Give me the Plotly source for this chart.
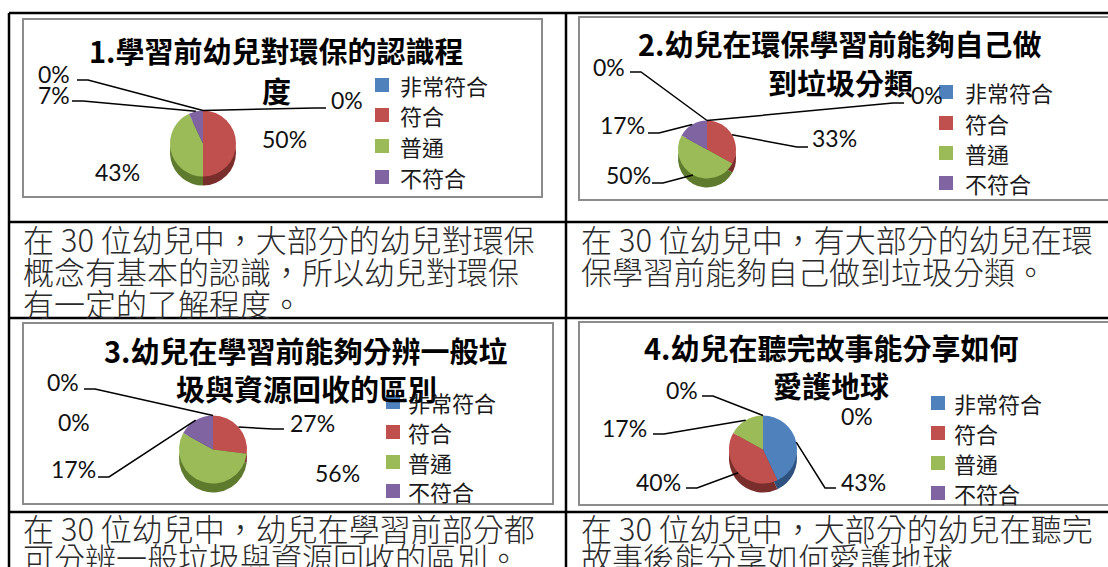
import math
import plotly.graph_objects as go

W, H = 1108, 567

# ---------------- data ----------------
categories = ["非常符合", "符合", "普通", "不符合"]
values_1 = [0, 50, 43, 7]
values_2 = [0, 33, 50, 17]
values_3 = [0, 27, 56, 17]
values_4 = [43, 40, 17, 0]
extra_pct = [0, 0, 0, 0]  # unnamed 5th category (label only)

titles = [
    ["1.學習前幼兒對環保的認識程", "度"],
    ["2.幼兒在環保學習前能夠自己做", "到垃圾分類"],
    ["3.幼兒在學習前能夠分辨一般垃", "圾與資源回收的區別"],
    ["4.幼兒在聽完故事能分享如何", "愛護地球"],
]
descriptions = [
    ["在 30 位幼兒中，大部分的幼兒對環保", "概念有基本的認識，所以幼兒對環保", "有一定的了解程度。"],
    ["在 30 位幼兒中，有大部分的幼兒在環", "保學習前能夠自己做到垃圾分類。"],
    ["在 30 位幼兒中，幼兒在學習前部分都", "可分辨一般垃圾與資源回收的區別。"],
    ["在 30 位幼兒中，大部分的幼兒在聽完", "故事後能分享如何愛護地球"],
]

# ---------------- styles / layout ----------------
colors = ["#4F81BD", "#C0504D", "#9BBB59", "#8064A2"]
side_colors = ["#2F5180", "#7A2E2C", "#5E7A2C", "#4F3B6B"]
CJK = "Noto Sans CJK TC"

def fx(x):
    return x / W

def fy(y):
    return 1 - y / H

layout_cfg = [
    dict(values=values_1, box=(23, 19, 542, 197), title=(276, 50, 90), pie=(203, 148, 33),
         legend=(375, 399, [85, 115, 146, 177]),
         labels=[(330, 100), (261, 139), (94, 172), (37, 95), (37, 74)],
         lines=[(326, 108, -1), None, None, (72, 101, 1), (77, 80, 1)]),
    dict(values=values_2, box=(579, 17, 1114, 200), title=(840, 43, 82), pie=(707, 154, 29),
         legend=(939, 964, [92, 123, 153, 183]),
         labels=[(910, 95), (811, 138), (605, 175), (599, 125), (592, 67)],
         lines=[(904, 103, -1), (808, 147, -1), (652, 183, 1), (648, 133, 1), (630, 72, 1)]),
    dict(values=values_3, box=(23, 323, 553, 504), title=(306, 350, 388), pie=(213, 454, 34),
         legend=(386, 407, [402, 432, 462, 491]),
         labels=[(46, 382), (289, 423), (314, 473), (50, 469), (57, 422)],
         lines=[(84, 389, 1), (284, 429, -1), None, (98, 477, 1), None]),
    dict(values=values_4, box=(579, 322, 1114, 505), title=(831, 347, 385), pie=(763, 454, 34),
         legend=(931, 953, [403, 433, 463, 493]),
         labels=[(840, 482), (635, 482), (601, 428), (665, 390), (840, 416)],
         lines=[(836, 488, -1), (686, 488, 1), (653, 434, 1), (702, 396, 1), None]),
]

fig = go.Figure()
shapes = []
annotations = []
DEPTH = 9
STUB = 11
SQ = 14

for i, cfg in enumerate(layout_cfg):
    vals = cfg["values"]
    cx, cy, r = cfg["pie"]
    # side (depth) pie behind, then top face
    for dy, cols in [(DEPTH / 2, side_colors), (-DEPTH / 2, colors)]:
        ccy = cy + dy
        fig.add_trace(go.Pie(
            labels=categories, values=vals, sort=False, direction="clockwise", rotation=0,
            marker=dict(colors=cols, line=dict(width=0)), textinfo="none", hoverinfo="label+percent",
            showlegend=False, name=titles[i][0],
            domain=dict(x=[fx(cx - r), fx(cx + r)], y=[fy(ccy + r), fy(ccy - r)]),
        ))
    # chart box
    x0, y0, x1, y1 = cfg["box"]
    shapes.append(dict(type="rect", xref="paper", yref="paper", x0=fx(x0), x1=fx(x1), y0=fy(y1), y1=fy(y0),
                       line=dict(color="#8C8C8C", width=2), fillcolor="rgba(0,0,0,0)", layer="below"))
    # title
    tx, ty1, ty2 = cfg["title"]
    for txt, ty in zip(titles[i], [ty1, ty2]):
        annotations.append(dict(text=f"<b>{txt}</b>", x=fx(tx), y=fy(ty), xref="paper", yref="paper",
                                xanchor="center", yanchor="middle", showarrow=False, borderpad=0,
                                font=dict(family=CJK, size=29, color="#000")))
    # percentage labels + leader lines
    pct = list(vals) + [extra_pct[i]]
    cum = 0.0
    mids = []
    for v in vals:
        mids.append(cum + v / 2)
        cum += v
    mids.append(100.0)
    top_cy = cy - DEPTH / 2
    for j, (lx, ly) in enumerate(cfg["labels"]):
        annotations.append(dict(text=f"{pct[j]}%", x=fx(lx), y=fy(ly), xref="paper", yref="paper",
                                xanchor="left", yanchor="middle", showarrow=False, borderpad=0,
                                font=dict(family="Lato", size=23, color="#111")))
        ln = cfg["lines"][j]
        if ln is not None:
            sx, sy, d = ln
            th = 2 * math.pi * mids[j] / 100
            px_, py_ = cx + r * math.sin(th), top_cy - r * math.cos(th)
            path = f"M{fx(sx)},{fy(sy)} L{fx(sx + d * STUB)},{fy(sy)} L{fx(px_)},{fy(py_)}"
            shapes.append(dict(type="path", xref="paper", yref="paper", path=path,
                               line=dict(color="#000", width=1.5)))
    # legend (square swatch + label)
    mx, tx_, rows = cfg["legend"]
    for cat, col, ry in zip(categories, colors, rows):
        shapes.append(dict(type="rect", xref="paper", yref="paper",
                           x0=fx(mx), x1=fx(mx + SQ), y0=fy(ry + SQ / 2), y1=fy(ry - SQ / 2),
                           line=dict(width=0), fillcolor=col))
        annotations.append(dict(text=cat, x=fx(tx_), y=fy(ry), xref="paper", yref="paper",
                                xanchor="left", yanchor="middle", showarrow=False, borderpad=0,
                                font=dict(family=CJK, size=22, color="#1a1a1a")))

# table lines
tbl = dict(color="#000", width=2.5)
for (a, b, c, d) in [(9, 13, 1108, 13), (9, 13, 9, 567), (566, 13, 566, 567),
                     (9, 222, 1108, 222), (9, 318, 1108, 318), (9, 512, 1108, 512)]:
    shapes.append(dict(type="line", xref="paper", yref="paper", x0=fx(a), y0=fy(b), x1=fx(c), y1=fy(d), line=tbl))

# description text
desc_pos = [(22, [238, 270, 302]), (580, [238, 270]), (22, [527, 556]), (580, [527, 556])]
for lines_txt, (dx, ys) in zip(descriptions, desc_pos):
    for txt, yy in zip(lines_txt, ys):
        annotations.append(dict(text=txt, x=fx(dx), y=fy(yy), xref="paper", yref="paper",
                                xanchor="left", yanchor="middle", showarrow=False, borderpad=0,
                                font=dict(family=CJK, size=31, color="#2a2a2a", weight=300)))

fig.update_layout(
    width=W, height=H, autosize=False,
    margin=dict(l=0, r=0, t=0, b=0),
    paper_bgcolor="#fff", plot_bgcolor="#fff",
    shapes=shapes, annotations=annotations, showlegend=False,
)
fig.write_html("out.html")
